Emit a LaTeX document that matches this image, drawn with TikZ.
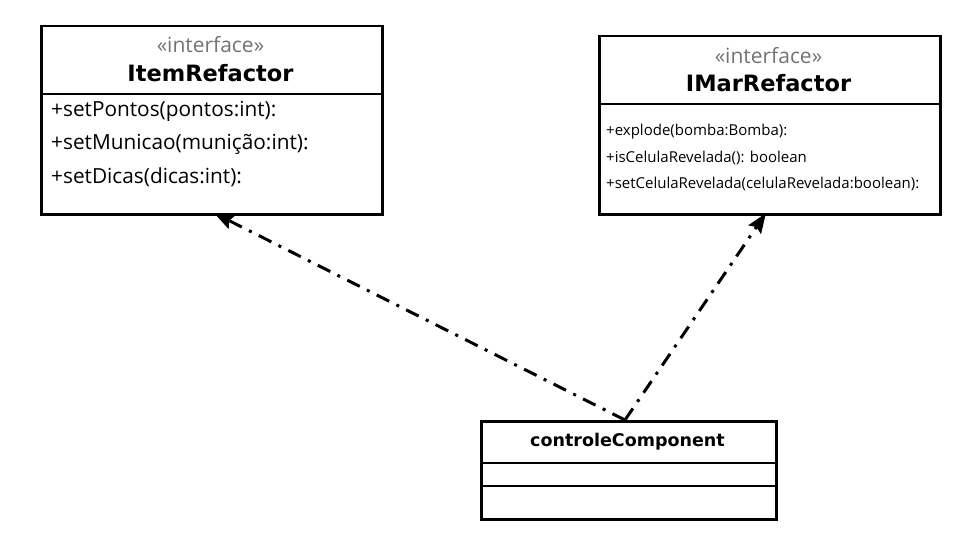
\documentclass[tikz,border=0pt]{standalone}
\usepackage{fontspec}
\setmainfont{Open Sans}
\newfontfamily\titlefont{DejaVu Sans}
\usetikzlibrary{arrows.meta}
\tikzset{
  box/.style={draw, line width=2.5pt, anchor=north west, inner sep=0pt},
  sep/.style={line width=2.5pt},
  stereo/.style={font=\fontsize{21}{24}\selectfont, text=black!55, inner sep=0pt},
  title/.style={font=\titlefont\bfseries\fontsize{22.5}{26}\selectfont, inner sep=0pt},
  meth/.style={font=\fontsize{20.8}{24}\selectfont, anchor=west, inner sep=0pt},
  smeth/.style={font=\fontsize{15}{18}\selectfont, anchor=west, inner sep=0pt},
  dep/.style={line width=3pt, dash pattern=on 14pt off 8pt on 3pt off 8pt,
    -{Stealth[length=20pt,width=15pt,inset=3pt]}},
}
\begin{document}
\begin{tikzpicture}[x=1pt,y=-1pt]
\useasboundingbox (0,0) rectangle (960,540);
% ItemRefactor
\node[box, minimum width=341pt, minimum height=188pt] (a) at (40,25) {};
\draw[sep] (40,94) -- (381,94);
\node[stereo] (as) at (210.5,45) {«interface»};
\node[title] (at) at (210.5,73) {ItemRefactor};
\node[meth] (a1) at (51,111) {+setPontos(pontos:int):};
\node[meth] (a2) at (51,144) {+setMunicao(munição:int):};
\node[meth] (a3) at (51,177) {+setDicas(dicas:int):};
% IMarRefactor
\node[box, minimum width=341pt, minimum height=178pt] (b) at (598,35) {};
\draw[sep] (598,104) -- (939,104);
\node[stereo] (bs) at (768.5,56) {«interface»};
\node[title] (bt) at (768.5,83) {IMarRefactor};
\node[smeth] (b1) at (606,132) {+explode(bomba:Bomba):};
\node[smeth] (b2) at (606,158) {+isCelulaRevelada(): boolean};
\node[smeth] (b3) at (606,184) {+setCelulaRevelada(celulaRevelada:boolean):};
% controleComponent
\node[box, minimum width=295pt, minimum height=98pt] (c) at (480,420) {};
\draw[sep] (480,463) -- (775,463);
\draw[sep] (480,486) -- (775,486);
\node[title, font=\titlefont\bfseries\fontsize{17.5}{20}\selectfont] (ct) at (627.5,442) {controleComponent};
% connectors
\coordinate (s) at (625,420);
\coordinate (t1) at (214,213);
\coordinate (t2) at (766,213);
\draw[dep] (s) -- (t1);
\draw[dep] (s) -- (t2);
\end{tikzpicture}
\end{document}
